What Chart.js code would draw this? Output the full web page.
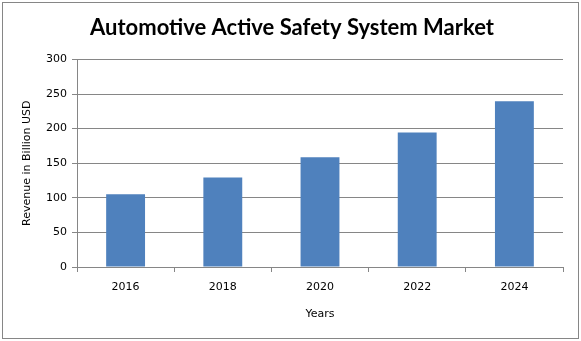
<!DOCTYPE html>
<html>
<head>
<meta charset="utf-8">
<script src="https://cdn.jsdelivr.net/npm/chart.js@4"></script>
<style>
  body { margin: 0; background: #fff; }
  #wrap { width: 581px; height: 341px; }
</style>
</head>
<body>
<div id="wrap"><canvas id="grafico"></canvas></div>
<script>
const years = ['2016', '2018', '2020', '2022', '2024'];
const revenue = [105, 129.5, 158.5, 194.5, 239.5];
const yMin = 0;
const yMax = 300;
const yStep = 50;

const GRID = '#868686';

Chart.defaults.font.family = '"DejaVu Sans", Verdana, sans-serif';
Chart.defaults.font.size = 11;
Chart.defaults.color = '#000';

// outer frame like the original picture
const frame = {
    id: 'frame',
    beforeDraw(chart) {
        const c = chart.ctx;
        c.save();
        c.fillStyle = '#fff';
        c.fillRect(0, 0, chart.width, chart.height);
        c.strokeStyle = GRID;
        c.lineWidth = 1;
        c.strokeRect(2.5, 2.5, 576, 336);
        c.restore();
    }
};

const ctx = document.getElementById('grafico');
new Chart(ctx, {
    type: 'bar',
    data: {
        labels: years,
        datasets: [{
            label: 'Revenue',
            data: revenue,
            backgroundColor: '#4F81BD',
            barPercentage: 0.4,
            categoryPercentage: 1.0
        }]
    },
    options: {
        responsive: true,
        maintainAspectRatio: false,
        animation: false,
        layout: { padding: { left: 21, right: 18, top: 0, bottom: 0 } },
        plugins: {
            legend: { display: false },
            tooltip: { enabled: false },
            title: {
                display: true,
                text: 'Automotive Active Safety System Market',
                font: { family: 'Lato, "Open Sans", sans-serif', size: 22, weight: 'bold' },
                color: '#000',
                padding: { top: 15, bottom: 18 }
            }
        },
        scales: {
            x: {
                grid: { display: true, offset: true, drawOnChartArea: false, drawTicks: true, tickLength: 5, color: GRID },
                border: { display: true, color: GRID },
                ticks: { padding: 9, color: '#000', font: { size: 11 } },
                title: { display: true, text: 'Years', color: '#000', font: { size: 11 }, padding: { top: 4, bottom: 20 } },
                afterFit(scale) { scale.height = 74; }
            },
            y: {
                min: yMin,
                max: yMax,
                ticks: { stepSize: yStep, padding: 5, color: '#000', font: { size: 11 } },
                grid: { color: GRID, tickLength: 5, drawTicks: true },
                border: { display: true, color: GRID },
                title: { display: true, text: 'Revenue in Billion USD', color: '#000', font: { size: 11 }, padding: { top: 0, bottom: 0 } },
                afterFit(scale) { scale.width = 56; }
            }
        }
    },
    plugins: [frame]
});
</script>
</body>
</html>
